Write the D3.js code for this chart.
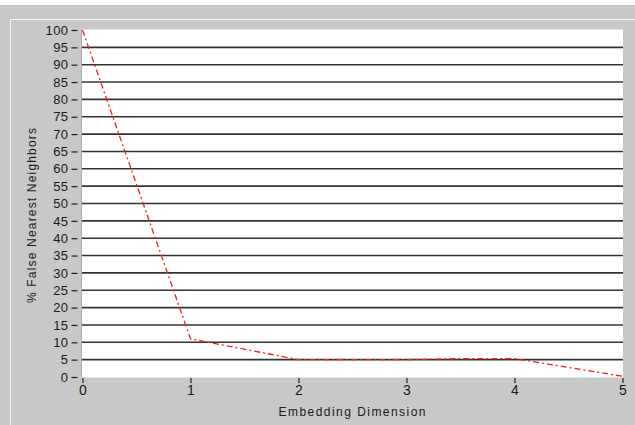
<!DOCTYPE html>
<html><head><meta charset="utf-8">
<script src="https://cdn.jsdelivr.net/npm/d3@7"></script>
<style>
html,body{margin:0;padding:0;background:#c8c8c8;}
svg{display:block;}
text{font-family:"Liberation Sans",Arial,sans-serif;fill:#1a1a1a;}
</style></head><body>
<svg id="c" width="635" height="425"></svg>
<script>
const dims = [0, 1, 2, 3, 3.5, 4, 5];
const fnnPercent = [100, 11, 5, 5, 5.3, 5.3, 0.2];
const xTicks = [0, 1, 2, 3, 4, 5];
const yTicks = d3.range(0, 101, 5);
const xTitle = "Embedding Dimension";
const yTitle = "% False Nearest Neighbors";

const svg = d3.select("#c");
const W = 635, H = 425;
const plot = {left: 81, right: 623, top: 29.5, bottom: 377.5};
const x = d3.scaleLinear().domain([0, 5]).range([82.5, 622.5]);
const y = d3.scaleLinear().domain([0, 100]).range([377, 30]);

// frame
svg.append("rect").attr("width", W).attr("height", H).attr("fill", "#c8c8c8");
svg.append("rect").attr("width", W).attr("height", 5).attr("fill", "#ffffff");
svg.append("line").attr("x1", 10).attr("x2", W).attr("y1", 19.5).attr("y2", 19.5).attr("stroke", "#f4f4f4");
svg.append("line").attr("x1", 10.5).attr("x2", 10.5).attr("y1", 19.5).attr("y2", H).attr("stroke", "#f4f4f4");

// plot area
svg.append("rect").attr("x", plot.left).attr("y", plot.top)
  .attr("width", plot.right - plot.left).attr("height", plot.bottom - plot.top)
  .attr("fill", "#ffffff");
svg.append("line").attr("x1", plot.left + 0.5).attr("x2", plot.left + 0.5)
  .attr("y1", plot.top).attr("y2", plot.bottom).attr("stroke", "#a8a8a8");

// gridlines
svg.append("g").selectAll("line").data(yTicks.filter(d => d > 0 && d < 100)).join("line")
  .attr("x1", plot.left + 1).attr("x2", plot.right)
  .attr("y1", d => y(d)).attr("y2", d => y(d))
  .attr("stroke", "#333333").attr("stroke-width", 1.6);

// y axis
const yAxis = d3.axisLeft(y).tickValues(yTicks).tickSize(6).tickPadding(3);
const gy = svg.append("g").attr("transform", "translate(77.5,0)").call(yAxis);
gy.select(".domain").remove();
gy.selectAll(".tick line").attr("stroke", "#222").attr("stroke-width", 1.2);
gy.selectAll(".tick text").style("font-size", "13px").style("font-family", "Liberation Sans, Arial, sans-serif")
  .attr("fill", "#1a1a1a").attr("letter-spacing", "0.4px");

// x axis
const xAxis = d3.axisBottom(x).tickValues(xTicks).tickSize(5).tickPadding(2).tickFormat(d3.format("d"));
const gx = svg.append("g").attr("transform", "translate(0,378)").call(xAxis);
gx.select(".domain").remove();
gx.selectAll(".tick line").attr("stroke", "#222").attr("stroke-width", 1.2);
gx.selectAll(".tick text").style("font-size", "14px").style("font-family", "Liberation Sans, Arial, sans-serif")
  .attr("fill", "#1a1a1a");

// titles
svg.append("text").attr("x", 352).attr("y", 416).attr("text-anchor", "middle")
  .style("font-size", "12px").attr("textLength", 147).attr("lengthAdjust", "spacing").text(xTitle);
svg.append("text").attr("transform", "translate(36,215.5) rotate(-90)").attr("text-anchor", "middle")
  .style("font-size", "12px").attr("textLength", 175).attr("lengthAdjust", "spacing").text(yTitle);

// data line
const line = d3.line().x((d, i) => x(dims[i])).y(d => y(d));
svg.append("path").datum(fnnPercent).attr("d", line)
  .attr("fill", "none").attr("stroke", "#ff1a1a").attr("stroke-width", 1.3)
  .attr("stroke-dasharray", "6,3,2,3");
</script>
</body></html>
